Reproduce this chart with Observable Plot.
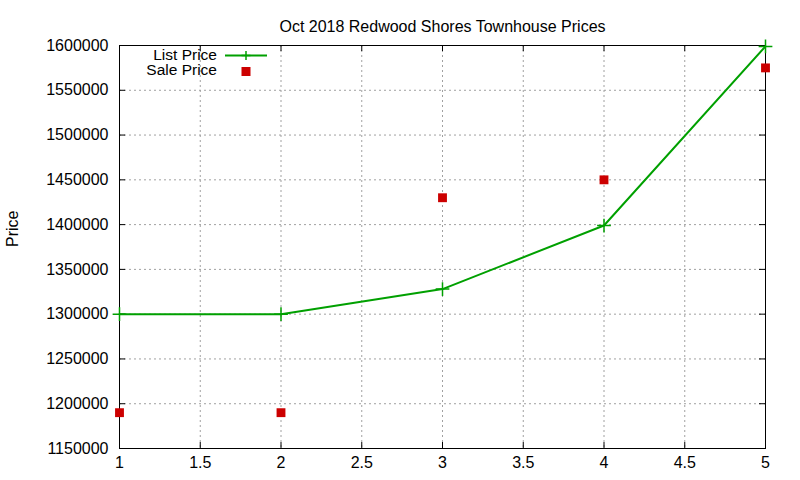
<!DOCTYPE html>
<html><head><meta charset="utf-8">
<script src="https://cdn.jsdelivr.net/npm/d3@7"></script>
<script src="https://cdn.jsdelivr.net/npm/@observablehq/plot@0.6"></script>
<style>
body{margin:0;background:#fff;font-family:"Liberation Sans",Arial,sans-serif;}
#wrap{position:relative;width:800px;height:480px;}
#legend{position:absolute;left:0;top:0;pointer-events:none;}
</style></head><body>
<div id="wrap"></div>
<script>
const title = "Oct 2018 Redwood Shores Townhouse Prices";
const yLabel = "Price";
const xs = [1, 2, 3, 4, 5];
const listPrice = [1300000, 1300000, 1328000, 1399000, 1599000];
const salePrice = [1190000, 1190000, 1430000, 1450000, 1575000];
const xTicks = [1, 1.5, 2, 2.5, 3, 3.5, 4, 4.5, 5];
const yTicks = [1150000, 1200000, 1250000, 1300000, 1350000, 1400000, 1450000, 1500000, 1550000, 1600000];
const seriesNames = ["List Price", "Sale Price"];
const colors = ["#00a000", "#cc0000"];

const W = 800, H = 480, ML = 119, MR = 35, MT = 45, MB = 32;
const PW = W - ML - MR, PH = H - MT - MB;
const idx = xs.map((_, i) => i);
const font = "Liberation Sans, Arial, sans-serif";

const chart = Plot.plot({
  width: W, height: H,
  marginLeft: ML, marginRight: MR, marginTop: MT, marginBottom: MB,
  style: {fontFamily: font, fontSize: "16px", background: "#fff", color: "#000"},
  x: {domain: [1, 5]},
  y: {domain: [1150000, 1600000]},
  marks: [
    Plot.gridX({ticks: xTicks, stroke: "#a0a0a0", strokeOpacity: 1, strokeDasharray: "2,3"}),
    Plot.gridY({ticks: yTicks, stroke: "#a0a0a0", strokeOpacity: 1, strokeDasharray: "2,3"}),
    Plot.ruleY(yTicks, {y: d => d, insetRight: PW - 6, stroke: "#000"}),
    Plot.ruleY(yTicks, {y: d => d, insetLeft: PW - 6, stroke: "#000"}),
    Plot.ruleX(xTicks, {x: d => d, insetTop: PH - 6, stroke: "#000"}),
    Plot.ruleX(xTicks, {x: d => d, insetBottom: PH - 6, stroke: "#000"}),
    Plot.frame({stroke: "#000", strokeWidth: 1}),
    Plot.axisX({ticks: xTicks, tickSize: 0, tickPadding: 8, fontSize: 16, label: null, tickFormat: d => String(d)}),
    Plot.axisY({ticks: yTicks, tickSize: 0, tickPadding: 11, fontSize: 16, label: null, tickFormat: d => String(d)}),
    Plot.text([yLabel], {frameAnchor: "left", dx: -107, rotate: -90, fontSize: 16, fill: "#000"}),
    Plot.text([title], {frameAnchor: "top", dy: -25, fontSize: 16, fill: "#000"}),
    Plot.line(idx, {x: i => xs[i], y: i => listPrice[i], stroke: colors[0], strokeWidth: 2}),
    Plot.dot(idx, {x: i => xs[i], y: i => listPrice[i], symbol: "plus", r: 4.5, stroke: colors[0], strokeWidth: 1.5}),
    Plot.dot(idx, {x: i => xs[i], y: i => salePrice[i], symbol: "square", r: 5, fill: colors[1], stroke: "none"})
  ]
});
const wrap = document.getElementById("wrap");
wrap.appendChild(chart);

// legend overlay (top-left inside plot frame)
const legend = document.createElement("div");
legend.id = "legend";
legend.innerHTML = `
<svg width="${W}" height="${H}" style="position:absolute;left:0;top:0" font-family="${font}" font-size="15.5">
  <text x="217" y="55.5" text-anchor="end" dy="0.32em">${seriesNames[0]}</text>
  <line x1="225" x2="267" y1="55.5" y2="55.5" stroke="${colors[0]}" stroke-width="2"/>
  <path d="M241.5,55.5h9M246,51v9" stroke="${colors[0]}" stroke-width="1.5"/>
  <text x="217" y="70.5" text-anchor="end" dy="0.32em">${seriesNames[1]}</text>
  <rect x="241.5" y="67" width="9" height="9" fill="${colors[1]}"/>
</svg>`;
wrap.appendChild(legend);
</script>
</body></html>
